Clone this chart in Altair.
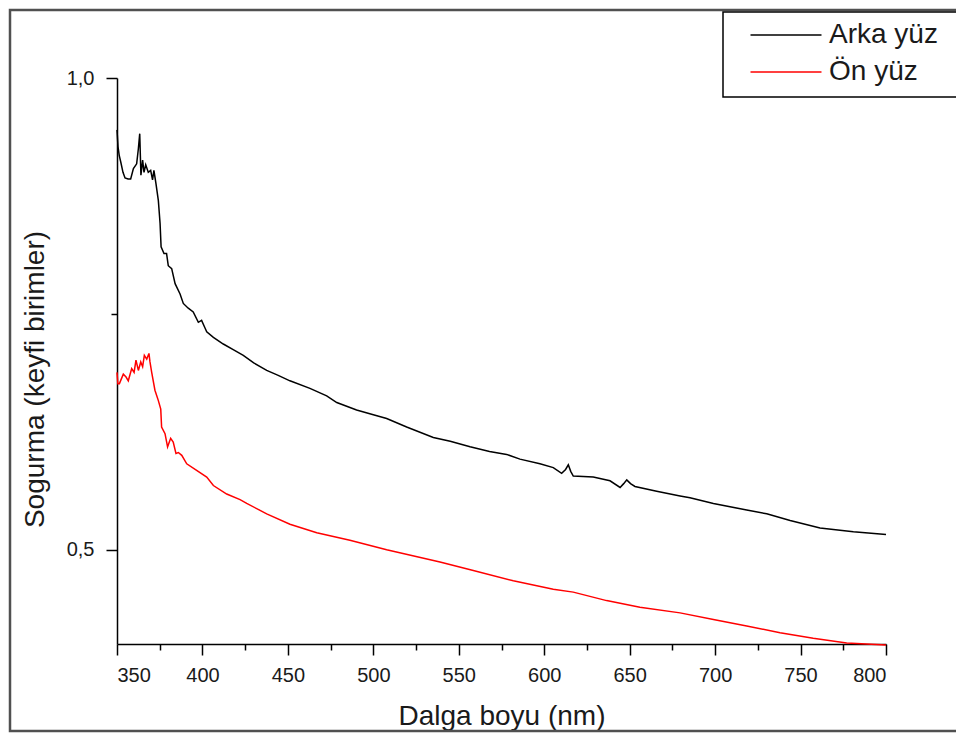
import altair as alt
import pandas as pd

series_names = ["Arka yüz", "Ön yüz"]
series_colors = ["#000000", "#ff0000"]

arka_nm = [350, 350.6, 351.3, 352.2, 353.5, 354.7, 356.5, 358, 359.6, 361.5, 362.5, 363.3, 364, 365,
           365.8, 366.8, 368.3, 369.7, 370.8, 371.6, 372.8, 374.2, 375.2, 375.8, 377.5, 379, 380, 382,
           384, 386.9, 388.8, 391.7, 394.6, 397.6, 399.5, 401.5, 402.5, 406.4, 412.2, 418, 423.9, 430,
           437.6, 444, 451.2, 462.9, 472.7, 478.6, 490.2, 500, 507.8, 519.5, 535.1, 545, 556.6, 568,
           578, 585.8, 597.5, 605.3, 610.2, 612.5, 614.1, 615.5, 617, 628.7, 638.5, 644.4, 646.5,
           648.3, 650.5, 653.1, 665.8, 679.5, 685.3, 699, 718.5, 730.2, 743.9, 761.4, 780.9, 800]
arka_val = [0.945, 0.927, 0.918, 0.911, 0.900, 0.894, 0.893, 0.893, 0.904, 0.909, 0.925, 0.941, 0.897,
            0.913, 0.900, 0.908, 0.900, 0.902, 0.892, 0.902, 0.888, 0.870, 0.846, 0.821, 0.814, 0.814,
            0.801, 0.798, 0.782, 0.771, 0.761, 0.756, 0.752, 0.741, 0.743, 0.735, 0.731, 0.725, 0.718,
            0.712, 0.706, 0.698, 0.690, 0.685, 0.679, 0.671, 0.663, 0.656, 0.648, 0.643, 0.639, 0.630,
            0.619, 0.615, 0.609, 0.604, 0.601, 0.596, 0.591, 0.587, 0.581, 0.585, 0.590, 0.583, 0.578,
            0.577, 0.573, 0.566, 0.570, 0.574, 0.570, 0.567, 0.562, 0.557, 0.555, 0.549, 0.542, 0.538,
            0.531, 0.523, 0.519, 0.516]

on_nm = [350, 350.5, 351.4, 353.7, 355.3, 356.6, 358.6, 360, 361.1, 362.5, 363.9, 365, 366, 367.4,
         368.7, 369.3, 370.3, 372.2, 374.2, 375.6, 376.1, 378.1, 379.6, 381.4, 382.9, 384.5, 385.9,
         387.9, 390.8, 396.6, 402.5, 406.4, 414.2, 422, 425.9, 437.6, 451.2, 466.9, 486.3, 507.8,
         539, 558.5, 581.9, 605.3, 617, 636.5, 656, 679.5, 699, 718.5, 738, 757.4, 777, 800]
on_val = [0.688, 0.676, 0.676, 0.686, 0.683, 0.679, 0.692, 0.688, 0.701, 0.690, 0.699, 0.694, 0.706,
          0.702, 0.708, 0.699, 0.688, 0.669, 0.658, 0.649, 0.630, 0.623, 0.609, 0.618, 0.614, 0.602,
          0.603, 0.600, 0.591, 0.584, 0.577, 0.568, 0.559, 0.553, 0.549, 0.538, 0.527, 0.518, 0.510,
          0.500, 0.487, 0.478, 0.467, 0.458, 0.455, 0.446, 0.439, 0.433, 0.426, 0.419, 0.412, 0.406,
          0.401, 0.399]

x_major = [350, 400, 450, 500, 550, 600, 650, 700, 750, 800]
x_minor = [375, 425, 475, 525, 575, 625, 675, 725, 775]
y_major = [0.5, 1.0]
y_minor = [0.75]

df = pd.concat([
    pd.DataFrame({"nm": arka_nm, "val": arka_val, "seri": series_names[0]}),
    pd.DataFrame({"nm": on_nm, "val": on_val, "seri": series_names[1]}),
], ignore_index=True)

FONT = "Liberation Sans"
TXT = "#1a1a1a"

x_scale = alt.Scale(domain=[350, 800], nice=False, zero=False)
y_scale = alt.Scale(domain=[0.4, 1.0], nice=False, zero=False)

deco = pd.DataFrame({"k": [0]})

frame = alt.Chart(deco).mark_rect(fillOpacity=0, stroke="#505050", strokeWidth=2.5).encode(
    x=alt.value(-107), x2=alt.value(900), y=alt.value(-68), y2=alt.value(653)
)

box = alt.Chart(deco).mark_rect(fill="white", stroke="#000000", strokeWidth=1.5).encode(
    x=alt.value(606), x2=alt.value(841), y=alt.value(-66), y2=alt.value(19)
)

lines = alt.Chart(df).mark_line(strokeWidth=1.5).encode(
    x=alt.X("nm:Q", scale=x_scale,
            axis=alt.Axis(values=x_major, title="Dalga boyu (nm)", orient="bottom",
                          tickSize=11, labelPadding=10, titlePadding=17, format="d")),
    y=alt.Y("val:Q", scale=y_scale,
            axis=alt.Axis(values=y_major, title="Sogurma (keyfi birimler)", orient="left",
                          tickSize=11, labelPadding=12, titlePadding=17, titleY=301,
                          labelExpr="replace(format(datum.value, '.1f'), '.', ',')")),
    color=alt.Color("seri:N", scale=alt.Scale(domain=series_names, range=series_colors),
                    legend=alt.Legend(title=None, orient="none", legendX=655, legendY=-57,
                                      symbolType="M-3,0H3", symbolSize=560, symbolStrokeWidth=1.5,
                                      labelOffset=29, rowPadding=9, padding=0,
                                      labelFont=FONT, labelFontSize=28, labelColor=TXT)),
)

minor = alt.Chart(df).mark_line(opacity=0).encode(
    x=alt.X("nm:Q", scale=x_scale,
            axis=alt.Axis(values=x_minor, labels=False, tickSize=6, domain=False, title=None,
                          orient="bottom")),
    y=alt.Y("val:Q", scale=y_scale,
            axis=alt.Axis(values=y_minor, labels=False, tickSize=6, domain=False, title=None,
                          orient="left")),
    detail="seri:N",
)

chart = alt.layer(frame, box, lines, minor).resolve_axis(
    x="independent", y="independent"
).properties(
    width=769, height=566,
    autosize=alt.AutoSizeParams(type="none"),
    padding={"left": 109, "top": 70, "right": 70, "bottom": 89},
    background="white",
).configure_view(strokeWidth=0).configure_axis(
    grid=False, domainColor="#000000", domainWidth=1.5, tickColor="#000000", tickWidth=1.5,
    labelFont=FONT, labelFontSize=20, labelColor=TXT,
    titleFont=FONT, titleFontSize=28, titleColor=TXT, titleFontWeight="normal",
)

chart.save("out.html", embed_options={"renderer": "svg", "actions": False})
